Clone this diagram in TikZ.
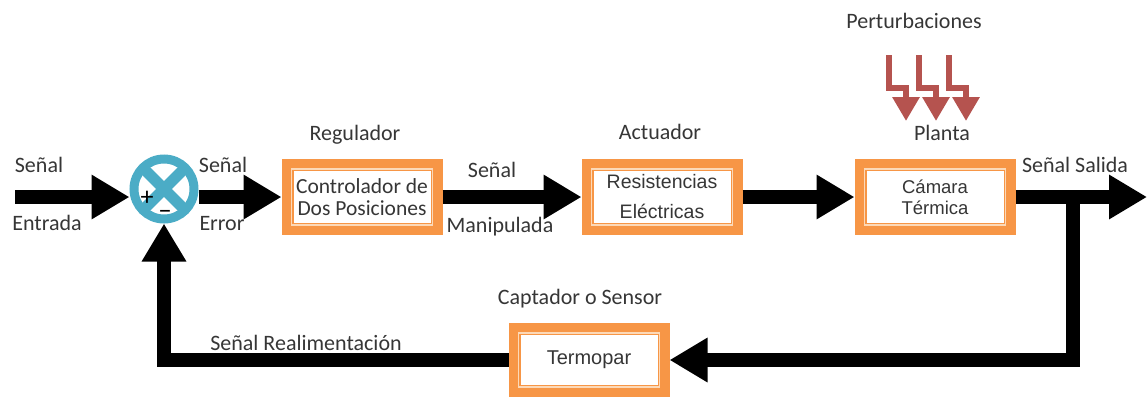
\documentclass[tikz,border=0pt]{standalone}
\usepackage{fontspec}
\setmainfont{Carlito}
\newfontfamily\boxfont{Liberation Sans}
\usetikzlibrary{arrows.meta}

\definecolor{boxorange}{HTML}{F79646}
\definecolor{boxpale}{HTML}{FCD9B8}
\definecolor{sumcyan}{HTML}{4BACC6}
\definecolor{distred}{HTML}{B5534F}
\definecolor{txtgray}{HTML}{363636}

\begin{document}
\begin{tikzpicture}[
    x=1pt, y=-1pt,
    block/.style={draw=boxorange, line width=12pt, outer sep=6pt, fill=white, minimum width=149pt, minimum height=64pt, align=center, inner sep=0pt, text=txtgray},
    lbl/.style={font=\fontsize{22}{24}\selectfont, text=txtgray, anchor=base},
    sign/.style={font=\fontsize{26}{26}\selectfont, inner sep=0pt},
    bigarrow/.style={line width=14pt, -{Triangle[length=38pt, width=42pt]}},
    distarrow/.style={draw=distred, line width=6.5pt, -{Triangle[length=24pt, width=26pt]}}
]
\useasboundingbox (0,0) rectangle (1147,397);

% Summing junction
\node[circle, draw=sumcyan, line width=9pt, outer sep=4.5pt, fill=white, minimum size=60pt] (sum) at (164,189) {};
\draw[sumcyan, line width=11pt] (sum.center) ++(45:30) -- ++(225:60);
\draw[sumcyan, line width=11pt] (sum.center) ++(135:30) -- ++(315:60);
\node[sign] (plus) at (147,198) {+};
\node[sign] (minus) at (165,215) {\textminus};

% Blocks
\node[block, font=\fontsize{21.5}{22}\selectfont] (b1) at (362,197) {Controlador de\\Dos Posiciones};
\node[block, font=\boxfont\fontsize{19.5}{30}\selectfont] (b2) at (662,197) {Resistencias\\Eléctricas};
\node[block, font=\boxfont\fontsize{18.5}{21}\selectfont] (b3) at (935,197) {Cámara\\Térmica};
\node[block, minimum height=62pt, font=\boxfont\fontsize{20}{21}\selectfont] (b4) at (589,360) {Termopar};

% Pale inner line of the blocks
\foreach \b in {b1,b2,b3,b4}
    \draw[boxpale, line width=1.2pt] ([shift={(10,10)}]\b.north west) rectangle ([shift={(-10,-10)}]\b.south east);

% Labels
\node[lbl] (in1) at (39,172) {Señal};
\node[lbl] (in2) at (47,230) {Entrada};
\node[lbl] (er1) at (223,172) {Señal};
\node[lbl] (er2) at (222,230) {Error};
\node[lbl] (reg) at (355,140) {Regulador};
\node[lbl] (ma1) at (492,177) {Señal};
\node[lbl] (ma2) at (500,232) {Manipulada};
\node[lbl] (act) at (660,139) {Actuador};
\node[lbl] (pert) at (914,28) {Perturbaciones};
\node[lbl] (pla) at (942,140) {Planta};
\node[lbl] (sal) at (1075,172) {Señal Salida};
\node[lbl] (cap) at (580,304) {Captador o Sensor};
\node[lbl] (rea) at (306,350) {Señal Realimentación};

% Disturbances
\foreach \px in {889,919,949}
    \draw[distarrow] (\px,55) -- (\px,88) -- (\px+17,88) -- (\px+17,121);

% Forward path
\coordinate (in) at (15,197);
\coordinate (out) at (1147,197);
\coordinate (tap) at (1073,197);
\draw[bigarrow] (in) -- (in -| sum.west);
\draw[bigarrow] (sum.east |- b1.west) -- (b1.west);
\draw[bigarrow] (b1.east) -- (b2.west);
\draw[bigarrow] (b2.east) -- (b3.west);
\draw[bigarrow] (b3.east) -- (out);

% Feedback path
\draw[bigarrow] (tap) |- (b4.east);
\draw[bigarrow] (b4.west) -| (sum.south);

\end{tikzpicture}
\end{document}
